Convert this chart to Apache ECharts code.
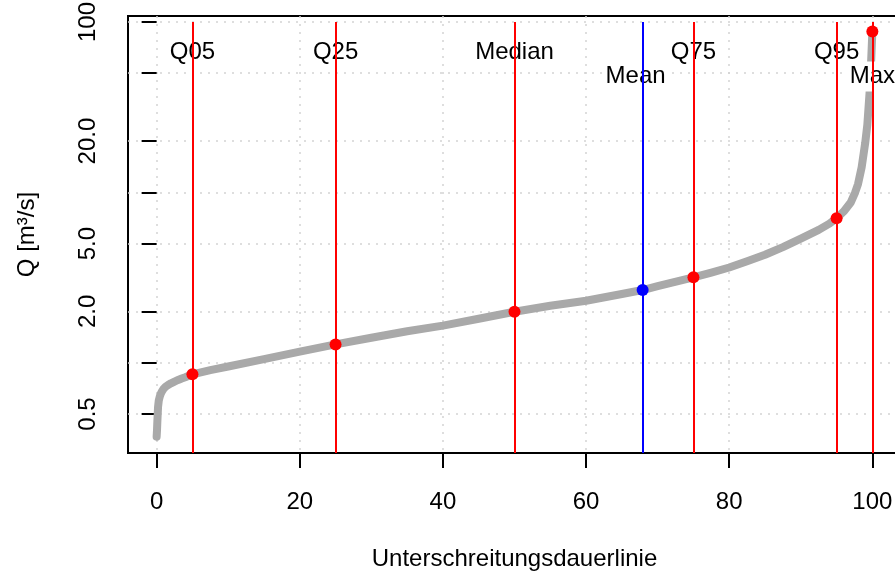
<!DOCTYPE html>
<html>
<head>
<meta charset="utf-8">
<script src="https://cdn.jsdelivr.net/npm/echarts@6/dist/echarts.min.js"></script>
<style>
html,body{margin:0;padding:0;background:#fff;}
#chart{width:895px;height:572px;}
</style>
</head>
<body>
<div id="chart"></div>
<script>
// Duration curve samples (x = % of time, y = Q in m³/s)
const curveX = [0,0.05,0.1,0.15,0.2,0.3,0.45,0.6,0.8,1,1.3,1.6,2,2.5,3,3.5,4,5,7.5,10,15,20,25,30,35,40,45,50,55,60,65,67.9,70,75,77.5,80,82.5,85,87.5,90,92.5,94,95,96,97,97.6,98,98.5,99,99.3,99.6,99.8,100];
const curveY = [0.367,0.40,0.45,0.50,0.55,0.60,0.635,0.66,0.685,0.705,0.725,0.74,0.757,0.775,0.792,0.808,0.822,0.855,0.905,0.95,1.05,1.16,1.28,1.40,1.53,1.65,1.81,1.99,2.16,2.31,2.53,2.67,2.81,3.17,3.38,3.62,3.94,4.3,4.77,5.35,6.02,6.55,7.04,7.72,8.75,10,11.2,14,19.5,25,38,55,88];

// Statistics
const statNames = ['Q05','Q25','Median','Mean','Q75','Q95','Max'];
const statX = [5,25,50,67.9,75,95,100];
const statY = [0.855,1.28,1.99,2.67,3.17,7.04,88];

// Axis ticks
const xTickValues = [0,20,40,60,80,100];
const yTickValues = [0.5,1,2,5,10,20,50,100];
const yLabelValues = [0.5,2,5,20,100];
const yLabelTexts = ['0.5','2.0','5.0','20.0','100'];

const FONT = 'Liberation Sans, Arial, Helvetica, sans-serif';
const yMin = 0.295, yMax = 108.4;
const lineTop = 100;
const labelYHigh = 66.6, labelYLow = 47.8;

const colorOf = n => n === 'Mean' ? '#0000FF' : '#FF0000';
const isLow = n => n === 'Mean' || n === 'Max';

const chart = echarts.init(document.getElementById('chart'), null, {renderer: 'canvas'});

const option = {
  animation: false,
  backgroundColor: '#ffffff',
  textStyle: {fontFamily: FONT, color: '#000'},
  grid: {
    left: 128, top: 16, right: -6, bottom: 119,
    containLabel: false,
    outerBoundsMode: 'none',
    show: true, borderColor: '#000', borderWidth: 2, backgroundColor: 'transparent'
  },
  xAxis: {
    type: 'value', min: -4, max: 104,
    name: 'Unterschreitungsdauerlinie',
    nameLocation: 'middle', nameGap: 94,
    nameTextStyle: {fontSize: 24, color: '#000', fontFamily: FONT},
    axisLine: {show: false},
    axisTick: {show: true, inside: false, length: 15, customValues: xTickValues, lineStyle: {color: '#000', width: 2}},
    axisLabel: {show: true, customValues: xTickValues, margin: 37, fontSize: 24, color: '#000', fontFamily: FONT},
    splitLine: {show: true, lineStyle: {color: '#D3D3D3', width: 1.5, type: [2, 6]}},
    minorSplitLine: {show: false}
  },
  yAxis: {
    type: 'log', logBase: 10, min: yMin, max: yMax,
    name: 'Q [m³/s]',
    nameLocation: 'middle', nameGap: 89, nameRotate: 90,
    nameTextStyle: {fontSize: 24, color: '#000', fontFamily: FONT},
    axisLine: {show: false},
    axisTick: {show: true, inside: false, length: 15, customValues: yTickValues, lineStyle: {color: '#000', width: 2}},
    axisLabel: {
      show: true, customValues: yLabelValues, rotate: 90, margin: 28, fontSize: 24, color: '#000', fontFamily: FONT,
      formatter: v => {
        const i = yLabelValues.findIndex(t => Math.abs(t - v) / t < 1e-6);
        return i >= 0 ? yLabelTexts[i] : '';
      }
    },
    splitLine: {show: true, lineStyle: {color: '#D3D3D3', width: 1.5, type: [2, 6]}}
  },
  series: [
    {
      type: 'line', name: 'curve', z: 2,
      data: curveX.map((x, i) => [x, curveY[i]]),
      showSymbol: false, symbol: 'none',
      smooth: false,
      lineStyle: {color: '#A9A9A9', width: 8, cap: 'round', join: 'round'},
      silent: true
    },
    {
      type: 'scatter', name: 'lines', z: 3,
      data: [],
      markLine: {
        silent: true, symbol: ['none', 'none'],
        label: {show: false},
        data: statX.map((x, i) => [
          {coord: [x, yMin], lineStyle: {color: colorOf(statNames[i]), width: 2, type: 'solid', opacity: 1}},
          {coord: [x, lineTop]}
        ])
      }
    },
    {
      type: 'scatter', name: 'labels', z: 4, symbolSize: 0, silent: true,
      itemStyle: {opacity: 1},
      data: statNames.map((n, i) => ({
        value: [statX[i], isLow(n) ? labelYLow : labelYHigh],
        label: {
          show: true, position: 'inside', formatter: n, opacity: 1,
          fontSize: 24, color: '#000000', fontFamily: FONT,
          backgroundColor: '#ffffff',
          padding: isLow(n) ? [3, 2, 3, 2] : [10, 2, 1, 2],
          offset: n === 'Mean' ? [-7, 0] : [0, 0]
        }
      }))
    },
    {
      type: 'scatter', name: 'points', z: 5, symbol: 'circle', symbolSize: 12, silent: true,
      data: statNames.map((n, i) => ({
        value: [statX[i], statY[i]],
        itemStyle: {color: colorOf(n), opacity: 1}
      }))
    }
  ]
};
chart.setOption(option);
</script>
</body>
</html>
